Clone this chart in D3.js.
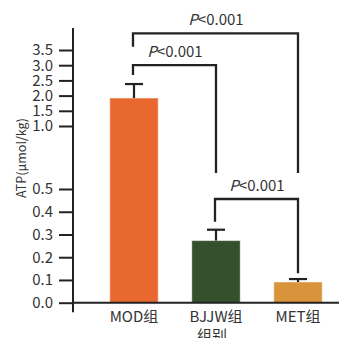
<!DOCTYPE html>
<html>
<head>
<meta charset="utf-8">
<script src="https://cdn.jsdelivr.net/npm/d3@7/dist/d3.min.js"></script>
<style>
  body { margin: 0; background: #fff; }
  svg { display: block; }
  text { font-family: "Noto Sans CJK SC", "Noto Sans", sans-serif; fill: #333; }
</style>
</head>
<body>
<div id="chart"></div>
<script>
// données
var groups = ["MOD组", "BJJW组", "MET组"];
var atpMean = [1.92, 0.273, 0.091];
var atpErr = [0.46, 0.048, 0.013];
var barColors = ["#e8682f", "#34502c", "#d9933b"];
var yTicks = [0.0, 0.1, 0.2, 0.3, 0.4, 0.5, 1.0, 1.5, 2.0, 2.5, 3.0, 3.5];
// comparaisons : groupe a, groupe b, niveau, bout gauche, bout droit
var compA = [0, 0, 1];
var compB = [2, 1, 2];
var compLevel = [4.05, 3.0, 0.456];
var compLeftEnd = [3.61, 2.68, 0.356];
var compRightEnd = [0.627, 0.627, 0.129];
var compLabel = ["P<0.001", "P<0.001", "P<0.001"];

var width = 339, height = 338;

var svg = d3.select("#chart").append("svg")
  .attr("width", width)
  .attr("height", height);

// axe y coupé : deux segments linéaires
var y = d3.scaleLinear()
  .domain([0, 0.5, 1.0, 3.5])
  .range([302.7, 189, 126, 50]);

var x = d3.scaleBand()
  .domain(groups)
  .range([93, 339])
  .paddingInner(0.41)
  .paddingOuter(0.205);

var data = groups.map(function(g, i) {
  return { group: g, mean: atpMean[i], err: atpErr[i], color: barColors[i] };
});

// barres
svg.selectAll(".bar")
  .data(data)
  .enter().append("rect")
  .attr("class", "bar")
  .attr("x", function(d) { return x(d.group); })
  .attr("width", x.bandwidth())
  .attr("y", function(d) { return y(d.mean); })
  .attr("height", function(d) { return y(0) - y(d.mean); })
  .style("fill", function(d) { return d.color; })
  .style("stroke", "rgba(255,255,255,0.45)")
  .style("stroke-width", 1);

// barres d'erreur
var eb = svg.selectAll(".err")
  .data(data)
  .enter().append("g")
  .attr("class", "err")
  .attr("stroke", "#222")
  .attr("stroke-width", 2.2);
eb.append("line")
  .attr("x1", function(d) { return x(d.group) + x.bandwidth() / 2; })
  .attr("x2", function(d) { return x(d.group) + x.bandwidth() / 2; })
  .attr("y1", function(d) { return y(d.mean); })
  .attr("y2", function(d) { return y(d.mean + d.err); });
eb.append("line")
  .attr("x1", function(d) { return x(d.group) + x.bandwidth() / 2 - 9; })
  .attr("x2", function(d) { return x(d.group) + x.bandwidth() / 2 + 9; })
  .attr("y1", function(d) { return y(d.mean + d.err); })
  .attr("y2", function(d) { return y(d.mean + d.err); });

// axe y
var yAxis = svg.append("g")
  .attr("class", "axis")
  .attr("transform", "translate(73,0)")
  .call(d3.axisLeft(y).tickValues(yTicks).tickFormat(d3.format(".1f"))
    .tickSize(14).tickPadding(6).tickSizeOuter(0));
yAxis.select(".domain")
  .attr("d", "M0," + y(4.22) + "V" + (y(0) + 9.5));
yAxis.selectAll("line, path").attr("stroke", "#222").attr("stroke-width", 2);
yAxis.selectAll("text").style("font-size", "15px").attr("fill", "#333");

// axe x
var xAxis = svg.append("g")
  .attr("class", "axis")
  .attr("transform", "translate(0," + y(0) + ")")
  .call(d3.axisBottom(x).tickSize(0).tickPadding(9));
xAxis.select(".domain")
  .attr("d", "M73,0H339");
xAxis.selectAll("line, path").attr("stroke", "#222").attr("stroke-width", 2);
xAxis.selectAll("text").style("font-size", "15px").attr("fill", "#333");

// titres des axes
svg.append("text")
  .attr("transform", "translate(26,158) rotate(-90)")
  .attr("text-anchor", "middle")
  .style("font-size", "12.5px")
  .text("ATP(μmol/kg)");

svg.append("text")
  .attr("x", 212)
  .attr("y", 341)
  .attr("text-anchor", "middle")
  .style("font-size", "15px")
  .text("组别");

// crochets de significativité
var cx = function(i) { return x(groups[i]) + x.bandwidth() / 2; };
var comps = compA.map(function(a, i) {
  return { a: a, b: compB[i], level: compLevel[i], l: compLeftEnd[i], r: compRightEnd[i], label: compLabel[i] };
});

svg.selectAll(".bracket")
  .data(comps)
  .enter().append("path")
  .attr("class", "bracket")
  .attr("fill", "none")
  .attr("stroke", "#222")
  .attr("stroke-width", 2.3)
  .attr("d", function(d) {
    return "M" + (cx(d.a) - 1) + "," + y(d.l) + "V" + y(d.level) +
           "H" + cx(d.b) + "V" + y(d.r);
  });

var lab = svg.selectAll(".plabel")
  .data(comps)
  .enter().append("text")
  .attr("class", "plabel")
  .attr("x", function(d) { return (cx(d.a) + cx(d.b)) / 2; })
  .attr("y", function(d) { return y(d.level) - 8; })
  .attr("text-anchor", "middle")
  .style("font-size", "15px");
lab.append("tspan").style("font-style", "italic").text(function(d) { return d.label.slice(0, 1); });
lab.append("tspan").text(function(d) { return d.label.slice(1); });
</script>
</body>
</html>
